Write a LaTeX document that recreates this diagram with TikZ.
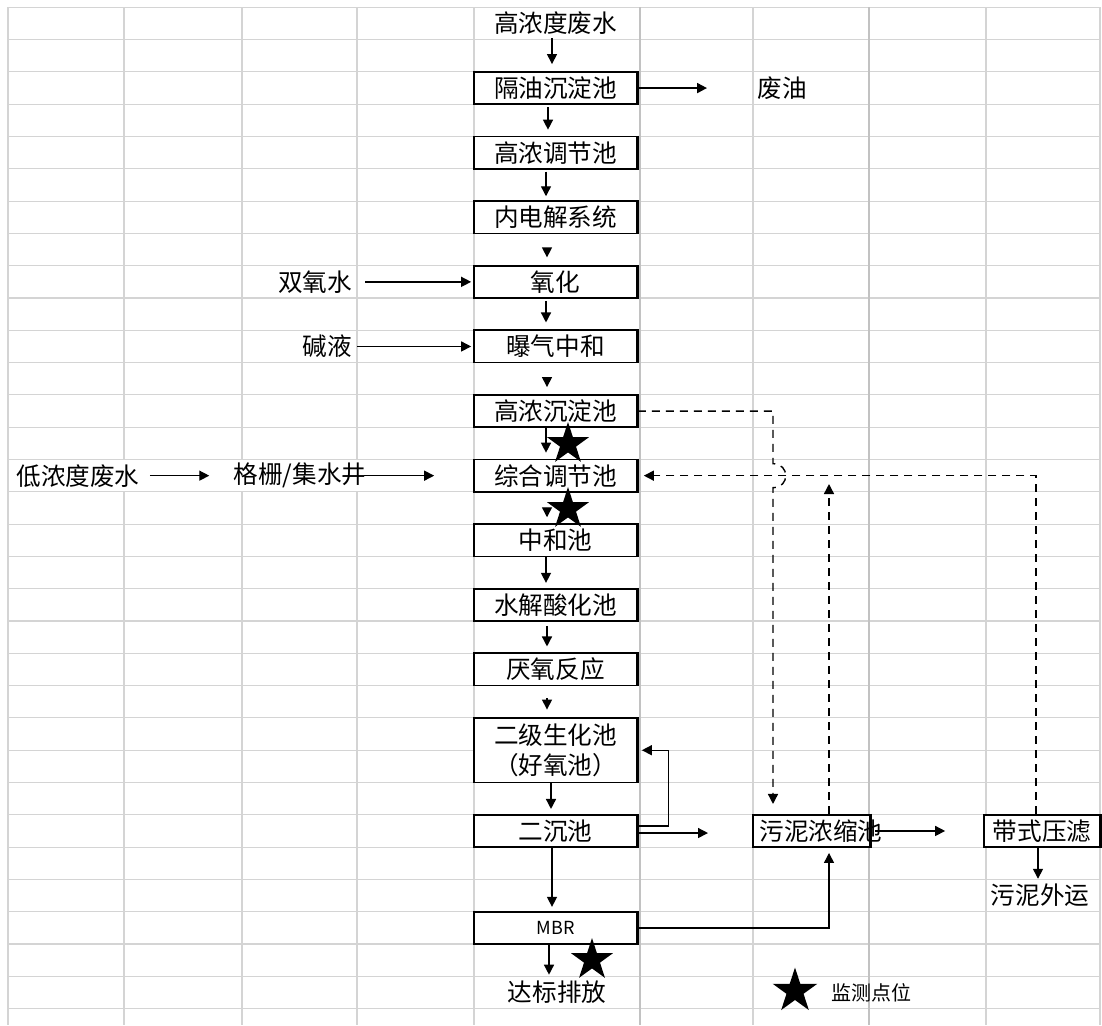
\documentclass[tikz,border=0pt]{standalone}
\usepackage{fontspec}
\newfontfamily\cjk{Noto Sans CJK SC}
\usetikzlibrary{arrows.meta,shapes.geometric,calc}
\begin{document}
\begin{tikzpicture}[x=0.5pt,y=-0.5pt,
  gridline/.style={draw=black!17, line width=0.55pt},
  gridthick/.style={draw=black!24, line width=1pt},
  box/.style={draw=black, line width=0.85pt, fill=white, minimum width=81.5pt, minimum height=16.15pt, inner sep=0pt, font=\cjk\fontsize{12.3}{15}\selectfont},
  lbl/.style={inner sep=0pt, font=\cjk\fontsize{12.3}{15}\selectfont},
  arr/.style={-{Triangle[length=5pt,width=5pt]}, line width=0.7pt},
  dsh/.style={dash pattern=on 4pt off 3pt, line width=0.6pt},
  mstar/.style={star, star points=5, star point ratio=2.618, fill=black, draw=none, inner sep=0pt, minimum size=22pt},
]
\fill[white] (0,0) rectangle (1102,1025);
\useasboundingbox (0,0) rectangle (1102,1025);
% grid
\foreach \i in {0,...,31} \draw[gridline] (8,{7.3+32.3*\i}) -- (1100,{7.3+32.3*\i});
\foreach \x in {8,474,753,986,1100} \draw[gridline] (\x,7.3) -- (\x,1025);
\foreach \x in {124,242,357} {\draw[gridline] (\x,7.3) -- (\x,459.5); \draw[gridline] (\x,491.8) -- (\x,1025);}
\foreach \x in {640,869} \draw[gridthick] (\x,7.3) -- (\x,1025);

% main column
\node[lbl] (t0) at (555.5,23.45) {高浓度废水};
\node[box] (b1) at (555.5,88.05) {隔油沉淀池};
\node[box] (b2) at (555.5,152.65) {高浓调节池};
\node[box] (b3) at (555.5,217.25) {内电解系统};
\node[box] (b4) at (555.5,281.85) {氧化};
\node[box] (b5) at (555.5,346.45) {曝气中和};
\node[box] (b6) at (555.5,411.05) {高浓沉淀池};
\node[box] (b7) at (555.5,475.65) {综合调节池};
\node[box] (b8) at (555.5,540.25) {中和池};
\node[box] (b9) at (555.5,604.85) {水解酸化池};
\node[box] (b10) at (555.5,669.45) {厌氧反应};
\node[box, minimum height=32.3pt, align=center] (b11) at (555.5,750.2) {二级生化池\\（好氧池）};
\node[box] (b12) at (555.5,830.95) {二沉池};
\node[box, font=\cjk\fontsize{9}{11}\selectfont] (b13) at (555.5,927.85) {MBR};
\node[lbl] (dis) at (557,992.45) {达标排放};

% side nodes
\node[lbl] (oil) at (782,88.05) {废油};
\node[lbl] (h2o2) at (315,281.85) {双氧水};
\node[lbl] (naoh) at (327,346.45) {碱液};
\node[lbl] (low) at (78,475.65) {低浓度废水};
\node[lbl] (grid) at (300,475.65) {格栅/集水井};
\node[box, minimum width=58.5pt] (b14) at (811.5,830.95) {};
\node[lbl] (t14) at (821,830.95) {污泥浓缩池};
\node[box, minimum width=58pt] (b15) at (1042,830.95) {带式压滤};
\node[lbl] (out) at (1040,895.55) {污泥外运};

\foreach \n in {b1,b2,b3,b4,b5,b6,b7,b8,b9,b10,b11,b12,b13,b14,b15}
  \draw[line width=1.4pt] (\n.north east) -- (\n.south east);

% vertical arrows
\draw[arr] ($(t0.south)+(-3.5,3)$) -- ($(b1.north)+(-3.5,-7)$);
\draw[arr] ($(b1.south)+(-7.5,2)$) -- ($(b2.north)+(-7.5,-6)$);
\draw[arr] ($(b2.south)+(-9.5,2)$) -- ($(b3.north)+(-9.5,-4)$);
\draw[arr] ($(b3.south)+(-8.5,14)$) -- ($(b4.north)+(-8.5,-7.5)$);
\draw[arr] ($(b4.south)+(-9.5,2)$) -- ($(b5.north)+(-9.5,-7)$);
\draw[arr] ($(b5.south)+(-8.5,16)$) -- ($(b6.north)+(-8.5,-7)$);
\draw[arr] ($(b6.south)+(-9.5,0)$) -- ($(b7.north)+(-9.5,-6)$);
\draw[arr] ($(b7.south)+(-8.5,15)$) -- ($(b8.north)+(-8.5,-6)$);
\draw[arr] ($(b8.south)+(-9.5,0)$) -- ($(b9.north)+(-9.5,-5)$);
\draw[arr] ($(b9.south)+(-8.5,4)$) -- ($(b10.north)+(-8.5,-6)$);
\draw[arr] ($(b10.south)+(-8.5,12)$) -- ($(b11.north)+(-8.5,-7.5)$);
\draw[arr] ($(b11.south)+(-4.5,0)$) -- ($(b12.north)+(-4.5,-5)$);
\draw[arr] ($(b12.south)+(-3.5,0)$) -- ($(b13.north)+(-3.5,-4)$);
\draw[arr] ($(b13.south)+(-6.5,0)$) -- ($(dis.north)+(-8,-6)$);

% horizontal arrows
\draw[arr, line width=1pt] (b1.east) -- ($(oil.west)+(-50,0)$);
\draw[arr] ($(h2o2.east)+(13,0)$) -- ($(b4.west)+(-2,0)$);
\draw[arr] ($(naoh.east)+(5,0)$) -- ($(b5.west)+(-2,0)$);
\draw[arr] ($(low.east)+(10,0)$) -- ($(grid.west)+(-24,0)$);
\draw[arr] ($(grid.east)+(-3,0)$) -- ($(b7.west)+(-39,0)$);

% dashed sludge lines
\coordinate (hop) at (773,475.65);
\draw[dsh,arr] (b6.east) -| ($(hop)+(0,-12)$) .. controls ($(hop)+(17,-12)$) and ($(hop)+(17,12)$) .. ($(hop)+(0,12)$) -- ($(b14.north -| hop)+(0,-10)$);
\draw[dsh,arr] ($(b15.north)+(-6,0)$) |- ($(b7.east)+(6,0)$);
\coordinate (j1) at (829,484);
\draw[dsh,arr] (b14.north -| j1) -- (j1);

% solid sludge lines
\draw[arr] ($(b12.east)+(0,-5)$) -- ++(30.5,0) |- ($(b11.east)+(4,0)$);
\coordinate (e2) at (708,833);
\draw[arr] (b12.east |- e2) -- (e2);
\draw[arr] ($(b14.east)+(4,0)$) -- ($(b15.west)+(-38,0)$);
\draw[arr] ($(b15.south)+(-4,0)$) -- ($(out.north)+(-2,-5)$);
\draw[arr] (b13.east) -| ($(b14.south -| j1)+(0,5)$);

% monitoring stars
\node[mstar] (s1) at (568,444) {};
\node[mstar] (s2) at (568,509) {};
\node[mstar] (s3) at (592,960) {};
\node[mstar, minimum size=23.5pt] (s4) at (795,991) {};
\node[inner sep=0pt, font=\cjk\fontsize{10}{12}\selectfont] (leg) at (871,993) {监测点位};
\end{tikzpicture}
\end{document}
